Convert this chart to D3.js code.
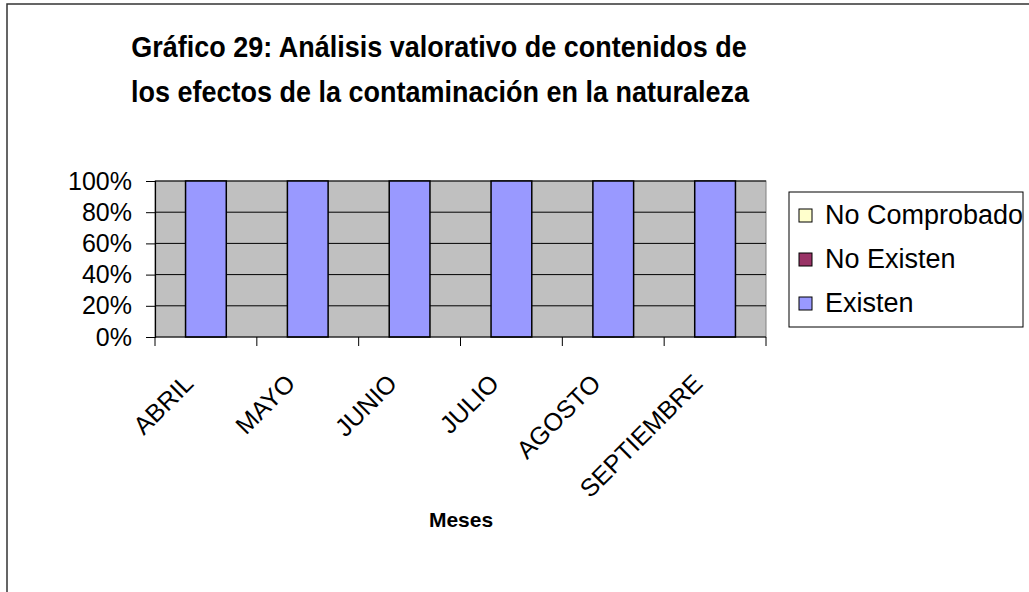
<!DOCTYPE html>
<html>
<head>
<meta charset="utf-8">
<script src="https://cdn.jsdelivr.net/npm/d3@7"></script>
<style>
  body { margin: 0; background: #fff; }
  svg text { font-family: "Liberation Sans", Arial, sans-serif; }
</style>
</head>
<body>
<div id="chart"></div>
<script>
var width = 1029,
    height = 592;

// data
var months = ["ABRIL", "MAYO", "JUNIO", "JULIO", "AGOSTO", "SEPTIEMBRE"];
var existen = [100, 100, 100, 100, 100, 100];
var noExisten = [0, 0, 0, 0, 0, 0];
var noComprobado = [0, 0, 0, 0, 0, 0];
var seriesNames = ["Existen", "No Existen", "No Comprobado"];
var seriesColors = ["#9999FF", "#993366", "#FFFFCC"];
var yTicks = [0, 20, 40, 60, 80, 100];

var margin = {left: 155, right: 766, top: 181, bottom: 337};

var svg = d3.select("#chart")
    .append("svg")
    .attr("width", width)
    .attr("height", height);

// outer chart border
svg.append("rect")
    .attr("x", 7).attr("y", 4)
    .attr("width", 1040).attr("height", 600)
    .attr("fill", "#fff")
    .attr("stroke", "#333")
    .attr("stroke-width", 1.5);

// title (the original is a bit taller than wide, so stretch it a little)
var title = svg.append("text")
    .attr("text-anchor", "middle")
    .attr("font-size", 27)
    .attr("font-weight", "bold")
    .attr("transform", "translate(0,57) scale(1,1.12)");
title.append("tspan").attr("x", 439).attr("y", 0)
    .text("Gráfico 29: Análisis valorativo de contenidos de");
title.append("tspan").attr("x", 440).attr("y", 40.5)
    .text("los efectos de la contaminación en la naturaleza");

var x = d3.scaleBand()
    .domain(months)
    .range([margin.left, margin.right])
    .paddingInner(0.6)
    .paddingOuter(0.3);

var xEdge = d3.scaleLinear()
    .domain([0, months.length])
    .range([margin.left, margin.right]);

var y = d3.scaleLinear()
    .domain([0, 100])
    .range([margin.bottom, margin.top]);

// plot area
svg.append("rect")
    .attr("x", margin.left).attr("y", margin.top)
    .attr("width", margin.right - margin.left)
    .attr("height", margin.bottom - margin.top)
    .attr("fill", "#C0C0C0")
    .attr("stroke", "#808080")
    .attr("stroke-width", 1);

// gridlines
svg.append("g")
    .selectAll("line")
    .data(yTicks.filter(function(d) { return d > 0; }))
    .enter()
    .append("line")
    .attr("x1", margin.left).attr("x2", margin.right)
    .attr("y1", function(d) { return y(d); })
    .attr("y2", function(d) { return y(d); })
    .attr("stroke", "#000")
    .attr("stroke-width", 1);

// stacked bars
var rows = months.map(function(m, i) {
    return {month: m, Existen: existen[i], "No Existen": noExisten[i], "No Comprobado": noComprobado[i]};
});
var stack = d3.stack().keys(seriesNames)(rows);

svg.append("g")
    .selectAll("g")
    .data(stack)
    .enter()
    .append("g")
    .attr("fill", function(d, i) { return seriesColors[i]; })
    .selectAll("rect")
    .data(function(d) { return d.filter(function(p) { return p[1] - p[0] > 0; }); })
    .enter()
    .append("rect")
    .attr("x", function(d) { return x(d.data.month); })
    .attr("width", x.bandwidth())
    .attr("y", function(d) { return y(d[1]); })
    .attr("height", function(d) { return y(d[0]) - y(d[1]); })
    .attr("stroke", "#000")
    .attr("stroke-width", 1.5);

// y axis
var yAxis = svg.append("g")
    .attr("transform", "translate(" + margin.left + ",0)")
    .call(d3.axisLeft(y).tickValues(yTicks).tickSize(9).tickPadding(14)
        .tickFormat(function(d) { return d + "%"; }));
yAxis.select(".domain").attr("stroke", "#000").attr("stroke-width", 1.2);
yAxis.selectAll(".tick line").attr("stroke", "#000");
yAxis.selectAll("text").attr("font-size", 25).attr("fill", "#000")
    .attr("font-family", "Liberation Sans, Arial, sans-serif");

// x axis line and category ticks
svg.append("line")
    .attr("x1", margin.left).attr("x2", margin.right)
    .attr("y1", margin.bottom).attr("y2", margin.bottom)
    .attr("stroke", "#000").attr("stroke-width", 1.2);

svg.append("g")
    .selectAll("line")
    .data(d3.range(months.length + 1))
    .enter()
    .append("line")
    .attr("x1", function(d) { return xEdge(d); })
    .attr("x2", function(d) { return xEdge(d); })
    .attr("y1", margin.bottom).attr("y2", margin.bottom + 9)
    .attr("stroke", "#000");

// rotated month labels
svg.append("g")
    .selectAll("text")
    .data(months)
    .enter()
    .append("text")
    .attr("text-anchor", "end")
    .attr("font-size", 25)
    .attr("transform", function(d) {
        var cx = x(d) + x.bandwidth() / 2 - 11;
        return "translate(" + cx + ",385) rotate(-45)";
    })
    .text(function(d) { return d; });

// axis title
svg.append("text")
    .attr("x", 461).attr("y", 527)
    .attr("text-anchor", "middle")
    .attr("font-size", 21)
    .attr("font-weight", "bold")
    .text("Meses");

// legend
var legend = svg.append("g");
legend.append("rect")
    .attr("x", 789).attr("y", 192)
    .attr("width", 234).attr("height", 135)
    .attr("fill", "#fff")
    .attr("stroke", "#000")
    .attr("stroke-width", 1);

var legendOrder = [2, 1, 0];
var items = legend.selectAll("g.item")
    .data(legendOrder)
    .enter()
    .append("g")
    .attr("class", "item")
    .attr("transform", function(d, i) { return "translate(799," + (215 + i * 44) + ")"; });

items.append("rect")
    .attr("x", 0).attr("y", -6)
    .attr("width", 13).attr("height", 13)
    .attr("fill", function(d) { return seriesColors[d]; })
    .attr("stroke", "#000")
    .attr("stroke-width", 1);

items.append("text")
    .attr("x", 26).attr("y", 9)
    .attr("font-size", 27)
    .text(function(d) { return seriesNames[d]; });
</script>
</body>
</html>
